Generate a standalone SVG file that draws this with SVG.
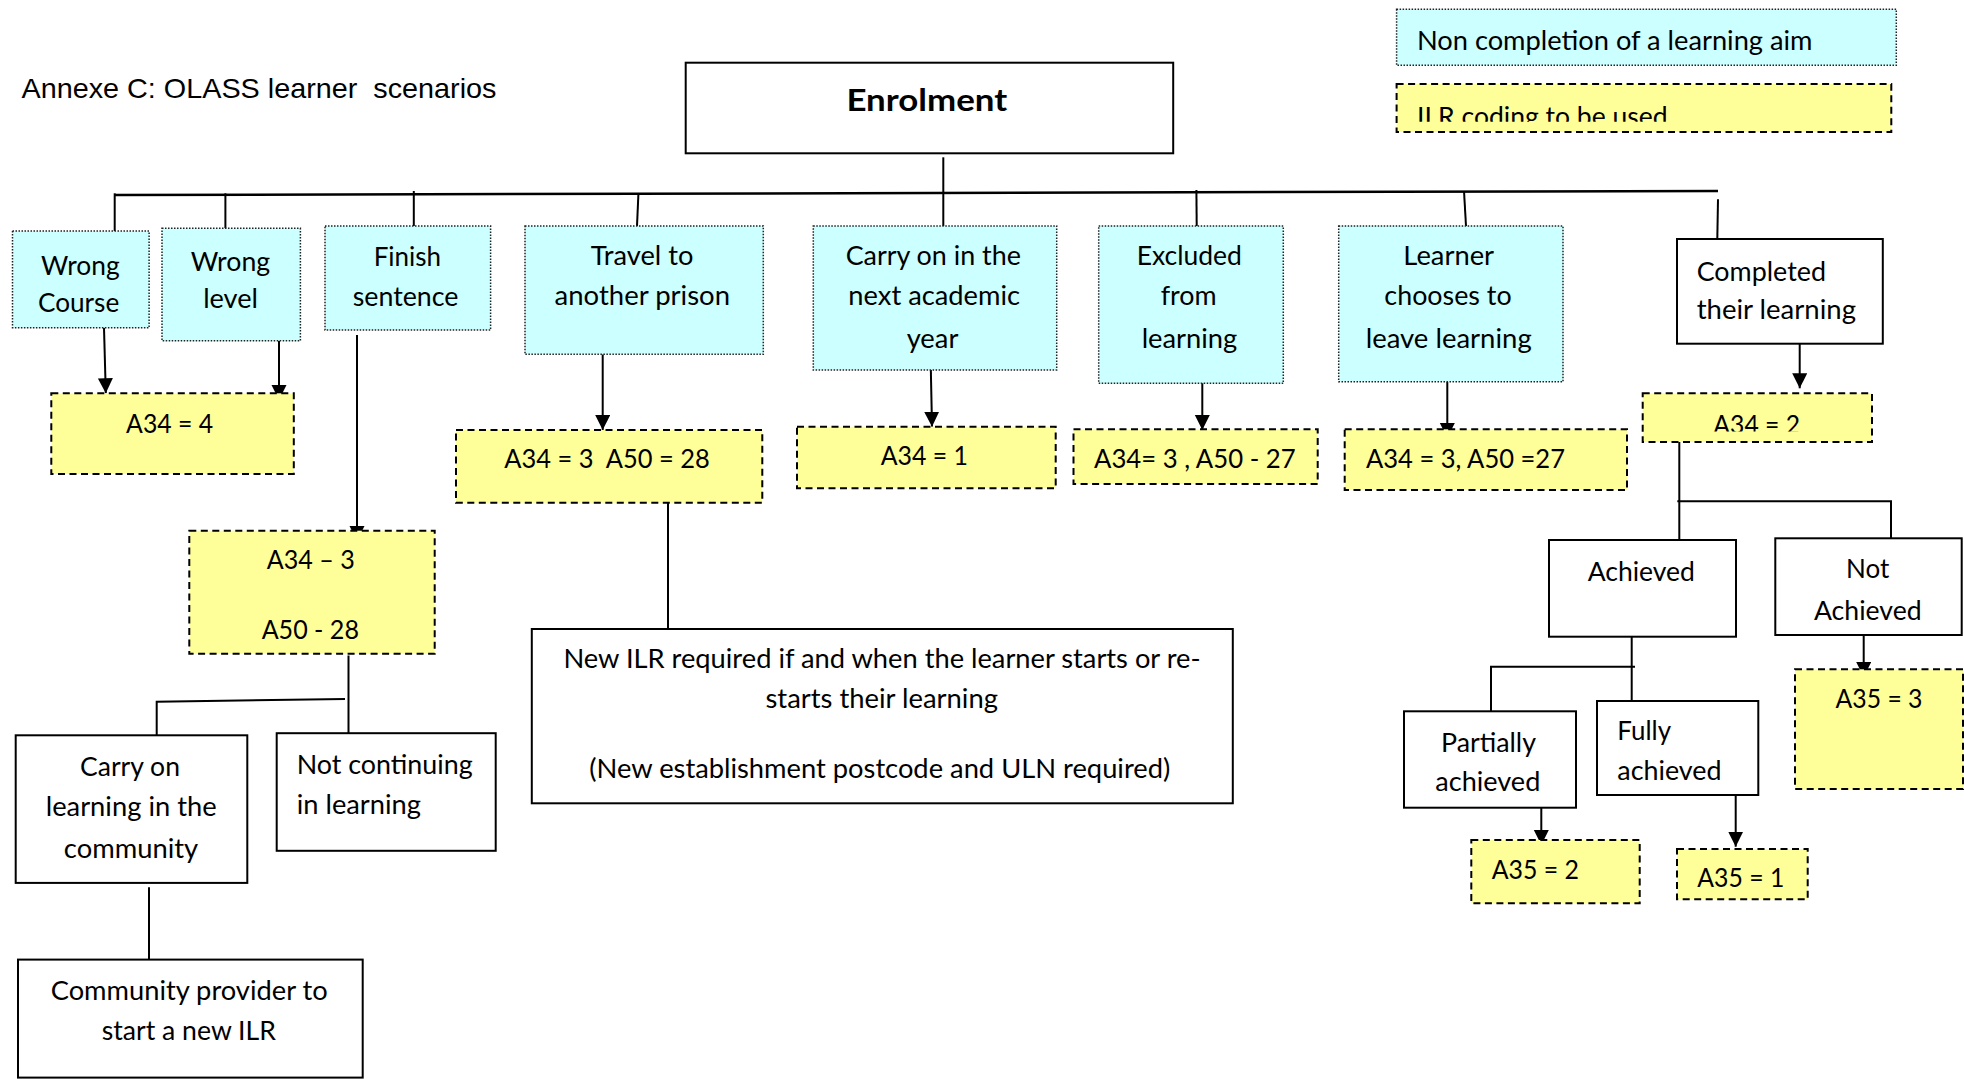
<svg xmlns="http://www.w3.org/2000/svg" width="1964" height="1079" viewBox="0 0 1964 1079">
<style>
.cy{fill:#CCFFFF;stroke:#222;stroke-width:1.5;stroke-dasharray:1.5 1.5}
.yl{fill:#FFFF99;stroke:#000;stroke-width:2;stroke-dasharray:7 4.5}
.wb{fill:#fff;stroke:#000;stroke-width:2}
.t{font-family:Lato,"Open Sans",sans-serif;font-size:26.5px;fill:#000;white-space:pre}
.m{text-anchor:middle}
.tb{font-family:Lato,"Open Sans",sans-serif;font-size:30px;font-weight:bold;fill:#000;text-anchor:middle}
.ti{font-family:"Liberation Sans",Arial,sans-serif;font-size:28.5px;fill:#000;white-space:pre}
.c{fill:none;stroke:#000;stroke-width:2}
.a{fill:none;stroke:#000;stroke-width:2;marker-end:url(#ah)}
.mn{fill:none;stroke:#000;stroke-width:2.5}
</style>
<defs>
<marker id="ah" markerUnits="userSpaceOnUse" markerWidth="16" markerHeight="16" refX="15" refY="7.5" orient="auto">
<path d="M0,0 L15,7.5 L0,15 z" fill="#000"/>
</marker>
<clipPath id="clipA342"><rect x="1640" y="390" width="235" height="41.5"/></clipPath>
<clipPath id="clipLeg"><rect x="1395" y="82" width="500" height="39.7"/></clipPath>
</defs>
<rect width="1964" height="1079" fill="#fff"/>

<text class="ti" x="21.5" y="97.7" textLength="475" lengthAdjust="spacingAndGlyphs">Annexe C: OLASS learner  scenarios</text>

<g id="connectors">
<path class="mn" d="M114.7,195 L1718,191"/>
<path class="c" d="M943.3,157.3 V193"/>
<path class="c" d="M114.7,193.3 V231"/>
<path class="c" d="M225.4,193.3 V228.3"/>
<path class="c" d="M413.8,191 V226"/>
<path class="c" d="M638.4,194 L637,226"/>
<path class="c" d="M943.3,193 V226"/>
<path class="c" d="M1196.4,190 L1196.7,226"/>
<path class="c" d="M1464,191 L1466,226"/>
<path class="c" d="M1718,199.3 L1717.3,239"/>
<path class="a" d="M104,327.7 L105.8,393.3"/>
<path class="a" d="M279,340.7 V400"/>
<path class="a" d="M357,335 V541"/>
<path class="a" d="M602.7,354.3 V430"/>
<path class="a" d="M930.7,362.7 L932,426.7"/>
<path class="a" d="M1202.3,383 V430"/>
<path class="a" d="M1447.3,381.7 V438"/>
<path class="a" d="M1799.7,343.7 V388.3"/>
<path class="a" d="M1863.7,635 V677"/>
<path class="a" d="M1541.3,807.7 V845"/>
<path class="a" d="M1735.7,793 V846.7"/>
<path class="c" d="M348.5,655.5 V733.2"/>
<path class="c" d="M345,699 L156.7,701.8 V735.3"/>
<path class="c" d="M149,887.2 V959.6"/>
<path class="c" d="M668,502.7 V629"/>
<path class="c" d="M1679.3,442 V540"/>
<path class="c" d="M1677.3,501.3 H1891 V538.3"/>
<path class="c" d="M1631.7,636.7 V701"/>
<path class="c" d="M1635,666.7 H1491 V711.3"/>
</g>

<g id="legend-noncompletion">
<rect class="cy" x="1396.6" y="9.3" width="499.7" height="56"/>
<text class="t" x="1416.9" y="50" textLength="395.6" lengthAdjust="spacingAndGlyphs">Non completion of a learning aim</text>
</g>
<g id="legend-ilr">
<rect class="yl" x="1396.6" y="84" width="494.7" height="48"/>
<text class="t" x="1417" y="125.7" textLength="250.7" lengthAdjust="spacingAndGlyphs" clip-path="url(#clipLeg)">ILR coding to be used</text>
</g>

<g id="enrolment">
<rect class="wb" x="685.7" y="62.7" width="487.5" height="90.6"/>
<text class="tb" x="926.8" y="111" textLength="160.7" lengthAdjust="spacingAndGlyphs">Enrolment</text>
</g>

<g id="wrong-course">
<rect class="cy" x="12.5" y="231" width="136.6" height="96.7"/>
<text class="t m" x="80.4" y="275" textLength="78.6" lengthAdjust="spacingAndGlyphs">Wrong</text>
<text class="t m" x="78.6" y="311.7" textLength="81.3" lengthAdjust="spacingAndGlyphs">Course</text>
</g>
<g id="wrong-level">
<rect class="cy" x="162" y="228.3" width="138.4" height="112.4"/>
<text class="t m" x="230.4" y="270.7" textLength="79.5" lengthAdjust="spacingAndGlyphs">Wrong</text>
<text class="t m" x="230.6" y="308.3" textLength="54.9" lengthAdjust="spacingAndGlyphs">level</text>
</g>
<g id="finish-sentence">
<rect class="cy" x="325" y="226" width="165.6" height="104"/>
<text class="t m" x="407.4" y="265.7" textLength="67.4" lengthAdjust="spacingAndGlyphs">Finish</text>
<text class="t m" x="405.6" y="305.7" textLength="105.8" lengthAdjust="spacingAndGlyphs">sentence</text>
</g>
<g id="travel">
<rect class="cy" x="525" y="226" width="238.3" height="128.3"/>
<text class="t m" x="642" y="265.3" textLength="102.7" lengthAdjust="spacingAndGlyphs">Travel to</text>
<text class="t m" x="642.3" y="305.3" textLength="175.5" lengthAdjust="spacingAndGlyphs">another prison</text>
</g>
<g id="carry-on-next-year">
<rect class="cy" x="813.3" y="226" width="243.4" height="144"/>
<text class="t m" x="933.3" y="265.3" textLength="175.3" lengthAdjust="spacingAndGlyphs">Carry on in the</text>
<text class="t m" x="934.2" y="305.3" textLength="171.7" lengthAdjust="spacingAndGlyphs">next academic</text>
<text class="t m" x="932.5" y="348" textLength="51.7" lengthAdjust="spacingAndGlyphs">year</text>
</g>
<g id="excluded">
<rect class="cy" x="1098.7" y="226" width="184.6" height="157.3"/>
<text class="t m" x="1189.3" y="265.3" textLength="105.3" lengthAdjust="spacingAndGlyphs">Excluded</text>
<text class="t m" x="1188.7" y="305.3" textLength="56" lengthAdjust="spacingAndGlyphs">from</text>
<text class="t m" x="1189.5" y="348" textLength="95.7" lengthAdjust="spacingAndGlyphs">learning</text>
</g>
<g id="learner-leaves">
<rect class="cy" x="1338.7" y="226" width="224.3" height="155.7"/>
<text class="t m" x="1448.7" y="265.3" textLength="90.7" lengthAdjust="spacingAndGlyphs">Learner</text>
<text class="t m" x="1448" y="305.3" textLength="127.3" lengthAdjust="spacingAndGlyphs">chooses to</text>
<text class="t m" x="1448.7" y="348" textLength="166" lengthAdjust="spacingAndGlyphs">leave learning</text>
</g>
<g id="completed">
<rect class="wb" x="1677" y="239" width="205.8" height="104.7"/>
<text class="t" x="1696.7" y="280.7" textLength="129.3" lengthAdjust="spacingAndGlyphs">Completed</text>
<text class="t" x="1696.7" y="319.3" textLength="159.3" lengthAdjust="spacingAndGlyphs">their learning</text>
</g>

<g id="a34-4">
<rect class="yl" x="51.3" y="393.3" width="242.5" height="80.7"/>
<text class="t m" x="169.6" y="433.3" textLength="87" lengthAdjust="spacingAndGlyphs">A34 = 4</text>
</g>
<g id="a34-3-a50-28-finish">
<rect class="yl" x="189.3" y="530.7" width="245.4" height="123"/>
<text class="t m" x="310.7" y="568.8" textLength="88" lengthAdjust="spacingAndGlyphs">A34 – 3</text>
<text class="t m" x="310.3" y="639.4" textLength="97.3" lengthAdjust="spacingAndGlyphs">A50 - 28</text>
</g>
<g id="a34-3-a50-28-travel">
<rect class="yl" x="456" y="430" width="306.3" height="72.7"/>
<text class="t" x="504.3" y="467.8" textLength="205.5" lengthAdjust="spacingAndGlyphs">A34 = 3  A50 = 28</text>
</g>
<g id="a34-1">
<rect class="yl" x="797" y="426.7" width="258.7" height="61.6"/>
<text class="t m" x="924.3" y="465" textLength="87.3" lengthAdjust="spacingAndGlyphs">A34 = 1</text>
</g>
<g id="a34-3-a50-27-excluded">
<rect class="yl" x="1073.5" y="429.3" width="244.2" height="54.7"/>
<text class="t" x="1094" y="468.3" textLength="201.7" lengthAdjust="spacingAndGlyphs">A34= 3 , A50 - 27</text>
</g>
<g id="a34-3-a50-27-learner">
<rect class="yl" x="1344.7" y="429.3" width="282.3" height="60.7"/>
<text class="t" x="1366" y="468.3" textLength="199" lengthAdjust="spacingAndGlyphs">A34 = 3, A50 =27</text>
</g>
<g id="a34-2">
<rect class="yl" x="1642.7" y="393.3" width="229.3" height="48.7"/>
<text class="t m" x="1756.7" y="434" textLength="86.7" lengthAdjust="spacingAndGlyphs" clip-path="url(#clipA342)">A34 = 2</text>
</g>

<g id="new-ilr">
<rect class="wb" x="531.8" y="629" width="701" height="174.3"/>
<text class="t m" x="882" y="668.3" textLength="637.2" lengthAdjust="spacingAndGlyphs">New ILR required if and when the learner starts or re-</text>
<text class="t m" x="881.7" y="708.3" textLength="232.5" lengthAdjust="spacingAndGlyphs">starts their learning</text>
<text class="t m" x="879.8" y="778.3" textLength="581" lengthAdjust="spacingAndGlyphs">(New establishment postcode and ULN required)</text>
</g>
<g id="carry-on-community">
<rect class="wb" x="15.7" y="735.3" width="231.6" height="147.6"/>
<text class="t m" x="130" y="776" textLength="100" lengthAdjust="spacingAndGlyphs">Carry on</text>
<text class="t m" x="131.2" y="815.9" textLength="171" lengthAdjust="spacingAndGlyphs">learning in the</text>
<text class="t m" x="131" y="858" textLength="134.3" lengthAdjust="spacingAndGlyphs">community</text>
</g>
<g id="not-continuing">
<rect class="wb" x="276.7" y="733.2" width="219" height="117.6"/>
<text class="t" x="296.7" y="773.8" textLength="176" lengthAdjust="spacingAndGlyphs">Not continuing</text>
<text class="t" x="296.7" y="814.1" textLength="124.3" lengthAdjust="spacingAndGlyphs">in learning</text>
</g>
<g id="community-provider">
<rect class="wb" x="18" y="959.6" width="344.7" height="118"/>
<text class="t m" x="189.2" y="999.5" textLength="277" lengthAdjust="spacingAndGlyphs">Community provider to</text>
<text class="t m" x="188.8" y="1039.8" textLength="174.3" lengthAdjust="spacingAndGlyphs">start a new ILR</text>
</g>

<g id="achieved">
<rect class="wb" x="1549" y="540" width="187" height="96.7"/>
<text class="t m" x="1641.3" y="580.7" textLength="107.3" lengthAdjust="spacingAndGlyphs">Achieved</text>
</g>
<g id="not-achieved">
<rect class="wb" x="1775.3" y="538.3" width="186.4" height="96.7"/>
<text class="t m" x="1867.7" y="577.7" textLength="43.3" lengthAdjust="spacingAndGlyphs">Not</text>
<text class="t m" x="1867.8" y="620" textLength="107.7" lengthAdjust="spacingAndGlyphs">Achieved</text>
</g>
<g id="partially-achieved">
<rect class="wb" x="1404" y="711.3" width="172" height="96.4"/>
<text class="t m" x="1488.5" y="751.7" textLength="95" lengthAdjust="spacingAndGlyphs">Partially</text>
<text class="t m" x="1487.8" y="790.7" textLength="105" lengthAdjust="spacingAndGlyphs">achieved</text>
</g>
<g id="fully-achieved">
<rect class="wb" x="1597" y="701" width="161.3" height="94"/>
<text class="t" x="1617.3" y="740" textLength="53.7" lengthAdjust="spacingAndGlyphs">Fully</text>
<text class="t" x="1617.3" y="780" textLength="104.3" lengthAdjust="spacingAndGlyphs">achieved</text>
</g>
<g id="a35-3">
<rect class="yl" x="1795" y="669.3" width="168" height="119.7"/>
<text class="t" x="1835.6" y="708.3" textLength="86.9" lengthAdjust="spacingAndGlyphs">A35 = 3</text>
</g>
<g id="a35-2">
<rect class="yl" x="1471.3" y="840" width="168.4" height="63.3"/>
<text class="t" x="1491.7" y="879.3" textLength="87.3" lengthAdjust="spacingAndGlyphs">A35 = 2</text>
</g>
<g id="a35-1">
<rect class="yl" x="1677" y="849" width="130.7" height="50.3"/>
<text class="t" x="1697.3" y="887.3" textLength="87" lengthAdjust="spacingAndGlyphs">A35 = 1</text>
</g>
</svg>
